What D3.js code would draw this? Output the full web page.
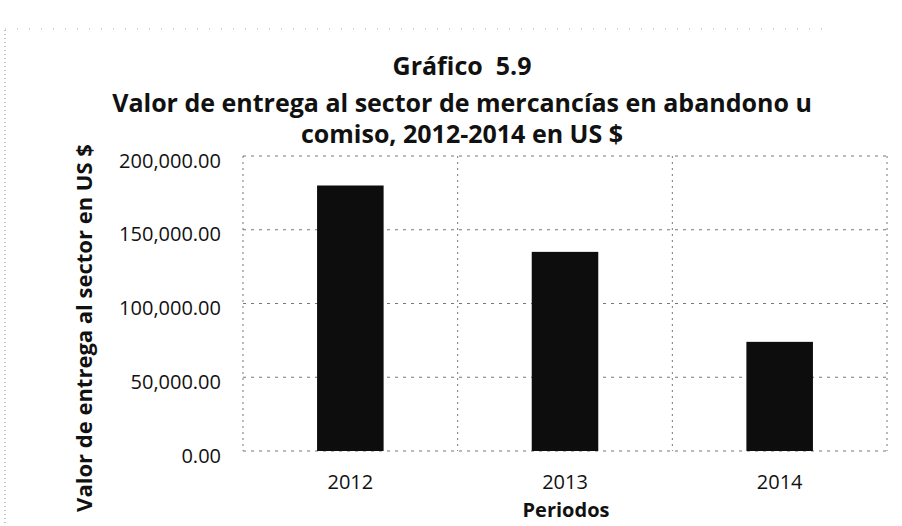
<!DOCTYPE html>
<html>
<head>
<meta charset="utf-8">
<script src="https://d3js.org/d3.v7.min.js"></script>
<style>
body { margin: 0; background: #fff; }
text { font-family: "Open Sans", sans-serif; fill: #111; }
</style>
</head>
<body>
<div id="vis"></div>
<script>
// data
var periods = ["2012", "2013", "2014"];
var values = [180000, 135000, 74000];
var yTicks = [0, 50000, 100000, 150000, 200000];
var titleLines = ["Gráfico  5.9", "Valor de entrega al sector de mercancías en abandono u", "comiso, 2012-2014 en US $"];

var margin = {top: 156, right: 15, bottom: 75, left: 243},
    width = 902 - margin.left - margin.right,
    height = 526 - margin.top - margin.bottom;

var svg = d3.select("#vis")
    .append("svg")
    .attr("width", 902)
    .attr("height", 526);

// scan border remains
svg.append("line")
    .attr("x1", 5).attr("x2", 5).attr("y1", 30).attr("y2", 526)
    .attr("stroke", "#888").attr("stroke-dasharray", "1,3");
svg.append("line")
    .attr("x1", 5).attr("x2", 830).attr("y1", 29).attr("y2", 29)
    .attr("stroke", "#aaa").attr("stroke-dasharray", "1,11");

var g = svg.append("g")
    .attr("transform", "translate(" + margin.left + "," + margin.top + ")");

var x = d3.scaleBand().domain(periods).range([0, width])
    .paddingInner(0.69).paddingOuter(0.345);
var y = d3.scaleLinear().domain([0, 200000]).range([height, 0]);

// horizontal gridlines
g.selectAll(".hgrid")
    .data(yTicks)
    .enter().append("line")
    .attr("class", "hgrid")
    .attr("x1", 0).attr("x2", width)
    .attr("y1", function(d) { return y(d); })
    .attr("y2", function(d) { return y(d); })
    .attr("stroke", "#777")
    .attr("stroke-width", 1)
    .attr("stroke-dasharray", "3,5");

// vertical gridlines at category boundaries
var bounds = periods.map(function(d) { return x(d) - x.step() * x.paddingInner() / 2; });
bounds.push(width);
g.selectAll(".vgrid")
    .data(bounds)
    .enter().append("line")
    .attr("class", "vgrid")
    .attr("x1", function(d) { return d; })
    .attr("x2", function(d) { return d; })
    .attr("y1", 0).attr("y2", height)
    .attr("stroke", "#777")
    .attr("stroke-width", 1)
    .attr("stroke-dasharray", "2,4");

// bars
g.selectAll(".bar")
    .data(values)
    .enter().append("rect")
    .attr("class", "bar")
    .attr("x", function(d, i) { return x(periods[i]); })
    .attr("width", x.bandwidth())
    .attr("y", function(d) { return y(d); })
    .attr("height", function(d) { return height - y(d); })
    .attr("fill", "#0d0d0d");

// y axis
var yAxis = g.append("g")
    .call(d3.axisLeft(y).tickValues(yTicks).tickSize(0).tickPadding(22)
        .tickFormat(d3.format(",.2f")));
yAxis.select(".domain").remove();
yAxis.selectAll("text")
    .attr("dy", "0.55em")
    .style("font-size", "20px").style("font-family", "Open Sans");

// x axis
var xAxis = g.append("g")
    .attr("transform", "translate(0," + height + ")")
    .call(d3.axisBottom(x).tickSize(0).tickPadding(24));
xAxis.select(".domain").remove();
xAxis.selectAll("text").style("font-size", "20px").style("font-family", "Open Sans");

// x label
g.append("text")
    .attr("x", width / 2 + 1)
    .attr("y", height + 66)
    .style("text-anchor", "middle")
    .style("font-size", "20px")
    .style("font-weight", "bold")
    .text("Periodos");

// y label
svg.append("text")
    .attr("transform", "rotate(-90)")
    .attr("x", -328)
    .attr("y", 92)
    .style("text-anchor", "middle")
    .style("font-size", "22px")
    .style("font-weight", "bold")
    .text("Valor de entrega al sector en US $");

// title
var titleY = [75, 112, 143];
svg.selectAll(".title")
    .data(titleLines)
    .enter().append("text")
    .attr("class", "title")
    .attr("x", 462)
    .attr("y", function(d, i) { return titleY[i]; })
    .style("text-anchor", "middle")
    .style("font-size", "25px")
    .style("font-weight", "bold")
    .style("white-space", "pre")
    .text(function(d) { return d; });
</script>
</body>
</html>
